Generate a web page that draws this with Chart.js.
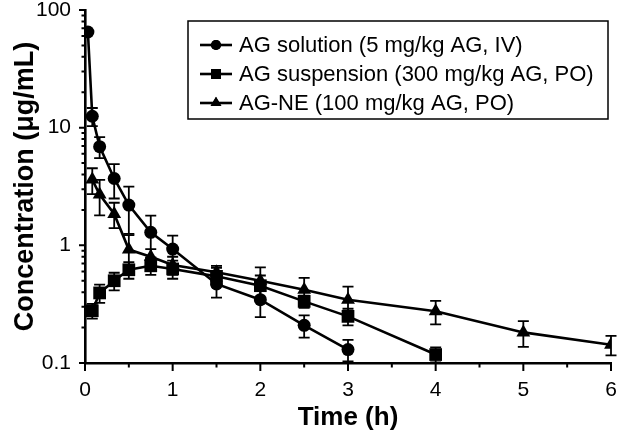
<!DOCTYPE html>
<html>
<head>
<meta charset="utf-8">
<script src="https://cdn.jsdelivr.net/npm/chart.js@4"></script>
<style>
  html, body { margin: 0; padding: 0; background: #fff; }
  canvas { display: block; }
</style>
</head>
<body>
<canvas id="chart-pk" width="620" height="440"></canvas>
<script>
// Plasma concentration–time profiles (mean ± SD)
const seriesNames = [
    'AG solution (5 mg/kg AG, IV)',
    'AG suspension (300 mg/kg AG, PO)',
    'AG-NE (100 mg/kg AG, PO)'
];
const pointStyles = ['circle', 'rect', 'triangle'];

const solTime = [0.033, 0.083, 0.167, 0.333, 0.5, 0.75, 1, 1.5, 2, 2.5, 3];
const solMean = [65, 12.5, 6.9, 3.7, 2.2, 1.29, 0.93, 0.47, 0.345, 0.209, 0.13];
const solSD   = [0, 2.2, 1.4, 1.2, 0.95, 0.5, 0.28, 0.11, 0.1, 0.045, 0.027];

const susTime = [0.083, 0.167, 0.333, 0.5, 0.75, 1, 1.5, 2, 2.5, 3, 4];
const susMean = [0.278, 0.394, 0.5, 0.62, 0.67, 0.63, 0.545, 0.454, 0.334, 0.249, 0.118];
const susSD   = [0.04, 0.07, 0.085, 0.1, 0.11, 0.11, 0.1, 0.1, 0.04, 0.04, 0.018];

const neTime = [0.083, 0.167, 0.333, 0.5, 0.75, 1, 1.5, 2, 2.5, 3, 4, 5, 6];
const neMean = [3.62, 2.7, 1.85, 0.92, 0.8, 0.68, 0.59, 0.5, 0.42, 0.345, 0.275, 0.182, 0.143];
const neSD   = [0.9, 0.9, 0.45, 0.3, 0.13, 0.12, 0.08, 0.15, 0.11, 0.1, 0.062, 0.045, 0.027];

const xTicks = [0, 1, 2, 3, 4, 5, 6];
const xMinorTicks = [0.5, 1.5, 2.5, 3.5, 4.5, 5.5];
const yTicks = [0.1, 1, 10, 100];

const FONT = '"Liberation Sans", Arial, Helvetica, sans-serif';
const pointRadius = [6.5, 9, 8];

const toPoints = (t, m, sd) => t.map((x, i) => ({ x: x, y: m[i], sd: sd[i] }));

const datasets = [
    toPoints(solTime, solMean, solSD),
    toPoints(susTime, susMean, susSD),
    toPoints(neTime, neMean, neSD)
].map((pts, i) => ({
    label: seriesNames[i],
    data: pts,
    borderColor: '#000',
    backgroundColor: '#000',
    borderWidth: 2.6,
    pointStyle: pointStyles[i],
    pointRadius: pointRadius[i],
    pointBorderWidth: 0,
    tension: 0,
    fill: false
}));

// error bars, drawn behind the markers
const errorBars = {
    id: 'errorBars',
    beforeDatasetsDraw(chart) {
        const { ctx, scales: { x, y } } = chart;
        ctx.save();
        ctx.strokeStyle = '#000';
        ctx.lineWidth = 1.8;
        chart.data.datasets.forEach(ds => {
            ds.data.forEach(p => {
                if (!p.sd) return;
                const px = x.getPixelForValue(p.x);
                const top = y.getPixelForValue(p.y + p.sd);
                const bot = y.getPixelForValue(Math.max(p.y - p.sd, 0.101));
                ctx.beginPath();
                ctx.moveTo(px, top); ctx.lineTo(px, bot);
                ctx.moveTo(px - 5.5, top); ctx.lineTo(px + 5.5, top);
                ctx.moveTo(px - 5.5, bot); ctx.lineTo(px + 5.5, bot);
                ctx.stroke();
            });
        });
        ctx.restore();
    }
};

// outward tick marks, major and minor
const tickMarks = {
    id: 'tickMarks',
    afterDraw(chart) {
        const { ctx, scales: { x, y } } = chart;
        const x0 = x.left, y0 = y.bottom;
        ctx.save();
        ctx.strokeStyle = '#000';
        ctx.lineWidth = 2;
        ctx.beginPath();
        xTicks.forEach(v => { const p = x.getPixelForValue(v); ctx.moveTo(p, y0); ctx.lineTo(p, y0 + 8); });
        xMinorTicks.forEach(v => { const p = x.getPixelForValue(v); ctx.moveTo(p, y0); ctx.lineTo(p, y0 + 4.5); });
        yTicks.forEach(v => { const p = y.getPixelForValue(v); ctx.moveTo(x0, p); ctx.lineTo(x0 - 6, p); });
        for (let d = 0.1; d < 100; d *= 10) {
            for (let k = 2; k <= 9; k++) {
                const p = y.getPixelForValue(k * d);
                ctx.moveTo(x0, p); ctx.lineTo(x0 - 3.5, p);
            }
        }
        ctx.stroke();
        ctx.restore();
    }
};

// boxed legend in the upper right
const boxLegend = {
    id: 'boxLegend',
    afterDraw(chart) {
        const ctx = chart.ctx;
        const bx = 188, by = 21, bw = 420, bh = 98;
        ctx.save();
        ctx.strokeStyle = '#000';
        ctx.lineWidth = 1.5;
        ctx.strokeRect(bx, by, bw, bh);
        ctx.font = '22px ' + FONT;
        ctx.fillStyle = '#000';
        ctx.textBaseline = 'middle';
        seriesNames.forEach((name, i) => {
            const yy = 45 + i * 29;
            ctx.lineWidth = 2.6;
            ctx.beginPath();
            ctx.moveTo(200, yy); ctx.lineTo(232, yy);
            ctx.stroke();
            Chart.helpers.drawPoint(ctx, {
                pointStyle: pointStyles[i], radius: pointRadius[i] * 0.78, borderWidth: 0
            }, 216, yy);
            ctx.fill();
            ctx.fillText(name, 239, yy + 1);
        });
        ctx.restore();
    }
};

new Chart(document.getElementById('chart-pk').getContext('2d'), {
    type: 'line',
    data: { datasets },
    options: {
        responsive: false,
        devicePixelRatio: 1,
        animation: false,
        layout: { padding: 0 },
        plugins: { legend: { display: false }, tooltip: { enabled: false } },
        scales: {
            x: {
                type: 'linear',
                min: 0, max: 6,
                afterFit: s => { s.height = 77; s.paddingLeft = 0; s.paddingRight = 7; },
                afterBuildTicks: s => { s.ticks = xTicks.map(v => ({ value: v })); },
                grid: { display: false, drawTicks: false },
                border: { display: true, color: '#000', width: 2.6 },
                ticks: { color: '#000', font: { family: FONT, size: 21 }, padding: 15, maxRotation: 0 },
                title: { display: true, text: 'Time (h)', color: '#000',
                    font: { family: FONT, size: 26, weight: 'bold' }, padding: { top: 0, bottom: 7 } }
            },
            y: {
                type: 'logarithmic',
                min: 0.1, max: 100,
                afterFit: s => { s.width = 85; s.paddingTop = 10; s.paddingBottom = 0; },
                afterBuildTicks: s => { s.ticks = yTicks.map(v => ({ value: v })); },
                grid: { display: false, drawTicks: false },
                border: { display: true, color: '#000', width: 2.6 },
                ticks: { color: '#000', font: { family: FONT, size: 21 }, padding: 14,
                    callback: v => String(v) },
                title: { display: true, text: 'Concentration (μg/mL)', color: '#000',
                    font: { family: FONT, size: 27, weight: 'bold' }, padding: { top: 9, bottom: 0 } }
            }
        }
    },
    plugins: [errorBars, tickMarks, boxLegend]
});
</script>
</body>
</html>
